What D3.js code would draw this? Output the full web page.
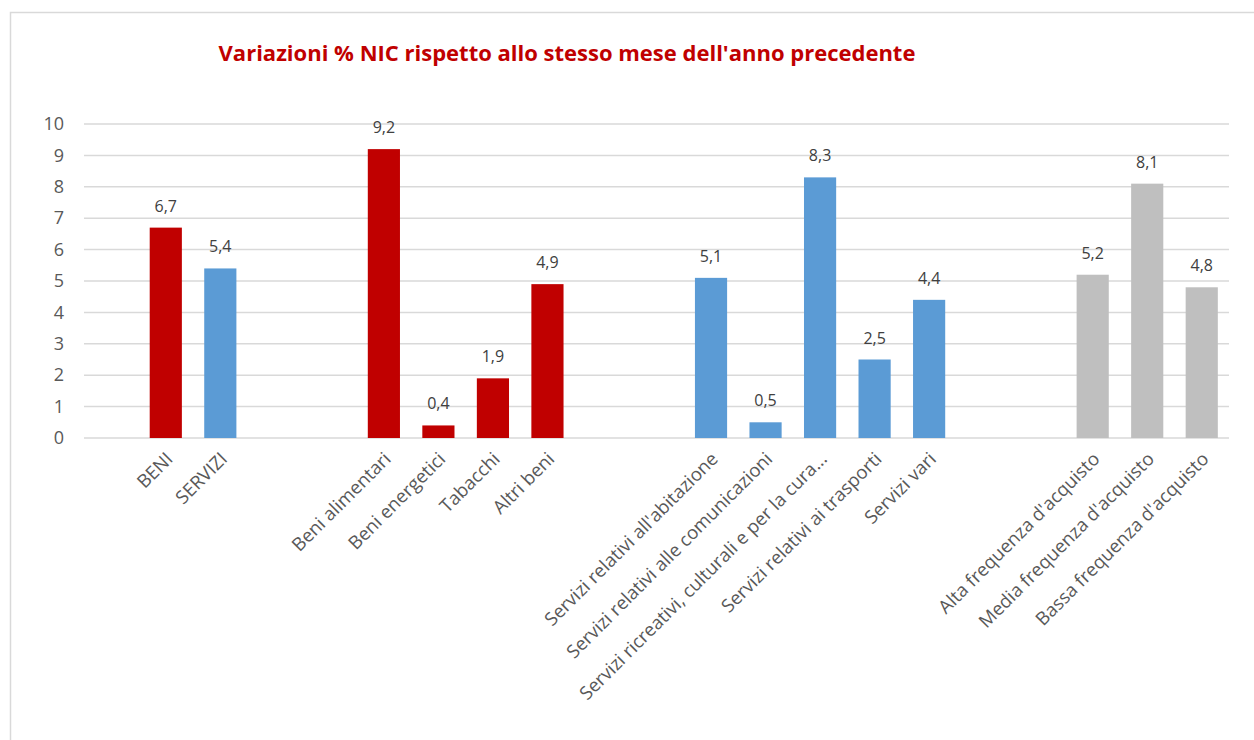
<!DOCTYPE html>
<html>
<head>
<meta charset="utf-8">
<script src="https://cdn.jsdelivr.net/npm/d3@7"></script>
<style>
  body { margin: 0; background: #fff; }
  svg { display: block; font-family: "Open Sans", sans-serif; }
</style>
</head>
<body>
<div id="chart"></div>
<script>
// Categories (null = empty spacer slot)
const categories = [
    null, "BENI", "SERVIZI", null, null,
    "Beni alimentari", "Beni energetici", "Tabacchi", "Altri beni", null, null,
    "Servizi relativi all'abitazione", "Servizi relativi alle comunicazioni",
    "Servizi ricreativi, culturali e per la cura...", "Servizi relativi ai trasporti", "Servizi vari",
    null, null,
    "Alta frequenza d'acquisto", "Media frequenza d'acquisto", "Bassa frequenza d'acquisto"
];
const values = [
    null, 6.7, 5.4, null, null,
    9.2, 0.4, 1.9, 4.9, null, null,
    5.1, 0.5, 8.3, 2.5, 4.4,
    null, null,
    5.2, 8.1, 4.8
];
const groups = [
    null, "beni", "servizi", null, null,
    "beni", "beni", "beni", "beni", null, null,
    "servizi", "servizi", "servizi", "servizi", "servizi",
    null, null,
    "freq", "freq", "freq"
];
const yTicks = [0, 1, 2, 3, 4, 5, 6, 7, 8, 9, 10];
const title = "Variazioni % NIC rispetto allo stesso mese dell'anno precedente";

async function drawChart() {
    const data = categories.map((c, i) => ({ idx: i, label: c, value: values[i], group: groups[i] }));

    const dimensions = {
        width: 1254,
        height: 740,
        margin: { top: 124, right: 25, bottom: 302, left: 84 },
    };
    dimensions.boundedWidth = dimensions.width - dimensions.margin.left - dimensions.margin.right;
    dimensions.boundedHeight = dimensions.height - dimensions.margin.top - dimensions.margin.bottom;

    const svg = d3.select("#chart")
        .append("svg")
        .attr("width", dimensions.width)
        .attr("height", dimensions.height);

    // outer chart frame
    svg.append("path")
        .attr("d", `M10.5,${dimensions.height} L10.5,12.5 L${dimensions.width},12.5`)
        .attr("fill", "none")
        .attr("stroke", "#d9d9d9")
        .attr("stroke-width", 1.5);

    const xScale = d3.scaleBand()
        .domain(data.map(d => d.idx))
        .range([0, dimensions.boundedWidth])
        .paddingInner(0.41)
        .paddingOuter(0.205);

    const yScale = d3.scaleLinear()
        .domain([0, 10])
        .range([dimensions.boundedHeight, 0]);

    const colorScale = d3.scaleOrdinal()
        .domain(["beni", "servizi", "freq"])
        .range(["#c00000", "#5b9bd5", "#bfbfbf"]);

    const bounds = svg.append("g")
        .attr("transform", `translate(${dimensions.margin.left}, ${dimensions.margin.top})`);

    // gridlines
    bounds.selectAll("line.grid")
        .data(yTicks)
        .join("line")
        .attr("class", "grid")
        .attr("x1", 0)
        .attr("x2", dimensions.boundedWidth)
        .attr("y1", d => yScale(d))
        .attr("y2", d => yScale(d))
        .attr("stroke", "#d9d9d9")
        .attr("stroke-width", 1.5);

    // y axis labels
    const yAxis = d3.axisLeft(yScale).tickValues(yTicks).tickSize(0).tickPadding(20);
    const yAxisG = bounds.append("g").call(yAxis);
    yAxisG.select(".domain").remove();
    yAxisG.selectAll("text")
        .attr("fill", "#595959")
        .style("font-size", "18px")
        .style("font-family", "Open Sans, sans-serif");

    const barData = data.filter(d => d.value !== null);

    bounds.selectAll("rect.bar")
        .data(barData)
        .join("rect")
        .attr("class", "bar")
        .attr("x", d => xScale(d.idx))
        .attr("width", xScale.bandwidth())
        .attr("y", d => yScale(d.value))
        .attr("height", d => yScale(0) - yScale(d.value))
        .attr("fill", d => colorScale(d.group));

    // data labels
    const fmt = d3.format(".1f");
    bounds.selectAll("text.value")
        .data(barData)
        .join("text")
        .attr("class", "value")
        .attr("x", d => xScale(d.idx) + xScale.bandwidth() / 2)
        .attr("y", d => yScale(d.value) - 16)
        .attr("text-anchor", "middle")
        .attr("fill", "#404040")
        .style("font-size", "16px")
        .text(d => fmt(d.value).replace(".", ","));

    // x axis labels (rotated)
    const xAxis = d3.axisBottom(xScale)
        .tickSize(0)
        .tickFormat(i => categories[i] || "");
    const xAxisG = bounds.append("g")
        .attr("transform", `translate(0, ${dimensions.boundedHeight})`)
        .call(xAxis);
    xAxisG.select(".domain").remove();
    xAxisG.selectAll("text")
        .attr("fill", "#595959")
        .style("font-size", "18.5px")
        .style("font-family", "Open Sans, sans-serif")
        .attr("text-anchor", "end")
        .attr("dx", 0)
        .attr("dy", 0)
        .attr("transform", "translate(6, 20) rotate(-45)");

    // title
    svg.append("text")
        .attr("x", 567)
        .attr("y", 61)
        .attr("text-anchor", "middle")
        .attr("fill", "#c00000")
        .style("font-weight", "bold")
        .style("font-size", "22px")
        .text(title);
}

drawChart();
</script>
</body>
</html>
